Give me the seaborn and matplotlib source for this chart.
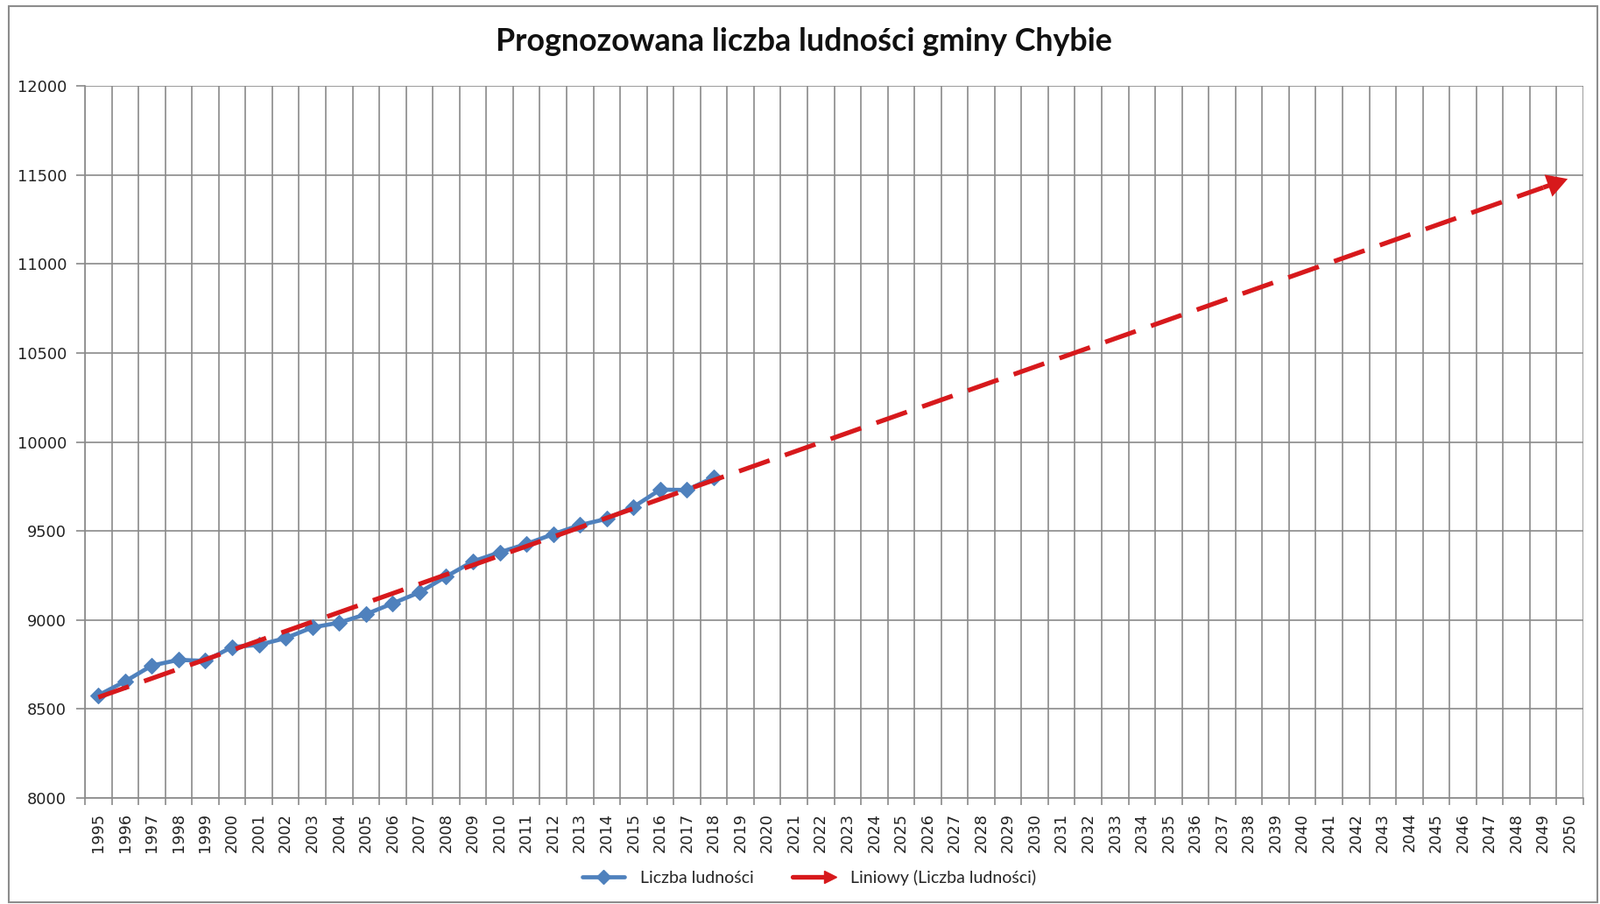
import numpy as np
import pandas as pd
import seaborn as sns
import matplotlib.pyplot as plt
from matplotlib.lines import Line2D
from matplotlib.patches import Rectangle
from matplotlib.legend_handler import HandlerLine2D

# dane
years = list(range(1995, 2019))
population = [8577, 8655, 8744, 8776, 8770, 8848, 8860, 8898, 8958, 8985,
              9032, 9093, 9155, 9244, 9329, 9380, 9427, 9482, 9533, 9568,
              9635, 9732, 9730, 9801]
axis_years = list(range(1995, 2051))
y_ticks = list(range(8000, 12001, 500))

BLUE = "#4F81BD"
RED = "#D7191C"
GRID = "#8A8A8A"

sns.set_style("white")
plt.rcParams['font.family'] = ['Lato', 'DejaVu Sans']

W, H = 1827, 1032
fig = plt.figure(figsize=(W / 100, H / 100), dpi=100)
ax = fig.add_axes([97 / W, 1 - 911 / H, (1808 - 97) / W, (911 - 98) / H])

df = pd.DataFrame({"Rok": years, "Liczba ludności": population})
coef = np.polyfit(years, population, 1)
trend = pd.DataFrame({"Rok": axis_years, "Trend": np.polyval(coef, axis_years)})

sns.lineplot(data=df, x="Rok", y="Liczba ludności", ax=ax, color=BLUE,
             lw=3.4, marker="D", markersize=9.5, markeredgecolor=BLUE, zorder=3)

# linia trendu (przerywana) ze strzałką na końcu
end_x = trend["Rok"].iloc[-1]
end_y = trend["Trend"].iloc[-1]
sns.lineplot(data=trend[trend["Rok"] < 2050], x="Rok", y="Trend", ax=ax,
             color=RED, lw=3.8, linestyle=(0, (7, 3.5)), zorder=4)
ax.plot([2049, end_x - 0.35], [np.polyval(coef, 2049), np.polyval(coef, end_x - 0.35)],
        color=RED, lw=3.8, zorder=4, solid_capstyle="butt")
ax.annotate("", xy=(end_x, end_y), xytext=(end_x - 0.45, np.polyval(coef, end_x - 0.45)),
            arrowprops=dict(arrowstyle="-|>,head_length=0.7,head_width=0.4",
                            color=RED, lw=0, mutation_scale=24), zorder=5)

ax.set_xlim(1994.5, 2050.5)
ax.set_ylim(8000, 12000)
ax.set_xticks(axis_years)
ax.set_xticklabels([str(y) for y in axis_years], rotation=90,
                   fontsize=12.8, family="DejaVu Sans")
ax.set_xticks(np.arange(1994.5, 2051, 1), minor=True)
ax.set_yticks(y_ticks)
ax.set_yticklabels([str(v) for v in y_ticks], fontsize=12.8, family="DejaVu Sans")
ax.tick_params(axis="x", which="major", bottom=True, length=0, pad=12, colors="#222222")
ax.tick_params(axis="x", which="minor", bottom=True, length=6, width=1.2, color=GRID)
ax.tick_params(axis="y", which="major", left=True, length=7, width=1.2, color=GRID,
               pad=8, labelcolor="#222222")
ax.xaxis.grid(True, which="minor", color=GRID, lw=1.2)
ax.yaxis.grid(True, which="major", color=GRID, lw=1.2)
ax.set_axisbelow(True)
ax.set_xlabel("")
ax.set_ylabel("")
for side in ["top", "right"]:
    ax.spines[side].set_visible(False)
for side in ["left", "bottom"]:
    ax.spines[side].set_color(GRID)
    ax.spines[side].set_linewidth(1.2)

fig.text(918 / W, 1 - 48 / H, "Prognozowana liczba ludności gminy Chybie",
         ha="center", va="center", fontsize=25.8, fontweight="bold", color="#111111")


class ArrowHandler(HandlerLine2D):
    def create_artists(self, legend, orig_handle, xdescent, ydescent,
                       width, height, fontsize, trans):
        yc = height / 2 - ydescent
        line = Line2D([-xdescent, width - xdescent - 8], [yc, yc],
                      color=RED, lw=3.8, transform=trans)
        head = Line2D([width - xdescent - 4], [yc], marker=">", markersize=10,
                      color=RED, lw=0, transform=trans)
        return [line, head]


h_blue = Line2D([], [], color=BLUE, lw=3.4, marker="D", markersize=8)
h_red = Line2D([], [], color=RED, lw=3.8)
fig.legend([h_blue, h_red], ["Liczba ludności", "Liniowy (Liczba ludności)"],
           handler_map={h_red: ArrowHandler()}, loc="center",
           bbox_to_anchor=(924 / W, 1 - 1002 / H), ncol=2, frameon=False,
           fontsize=14, handlelength=2.5, handletextpad=0.9, columnspacing=2.3)

fig.patches.append(Rectangle((10 / W, 2 / H), (W - 13) / W, (H - 9) / H,
                             transform=fig.transFigure, fill=False,
                             edgecolor="#8C8C8C", lw=1.5))

fig.savefig("out.png", dpi=100)
